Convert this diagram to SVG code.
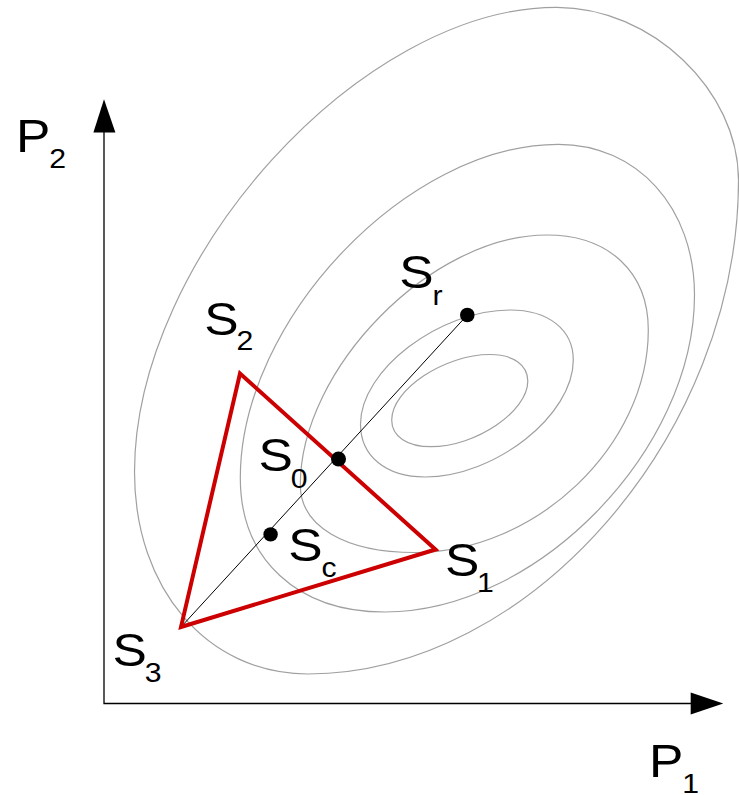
<svg xmlns="http://www.w3.org/2000/svg" width="739" height="795" viewBox="0 0 739 795">
<style>
.contour{fill:none;stroke:#a0a0a0;stroke-width:1.2}
.axis{fill:none;stroke:#000;stroke-width:1.3}
.tri{fill:none;stroke:#cc0000;stroke-width:4;stroke-linejoin:miter}
.ray{fill:none;stroke:#000;stroke-width:1}
.dot{fill:#000}
.lbl{font-family:"Liberation Sans",Arial,sans-serif;font-size:46px;fill:#000}
.sub{font-size:27px}
</style>
<rect width="739" height="795" fill="#fff"/>
<g id="contours">
<path class="contour" d="M490,354.5 C513.1,354.5 527.8,364.8 527.8,381 C527.8,411.5 475.9,446.7 431,446.7 C407,446.7 391.7,436.3 391.7,420 C391.7,389.6 444.4,354.5 490,354.5 Z"/>
<path class="contour" d="M510,310 C548.4,310 573.3,329.6 573.3,360 C573.3,415.2 495,477 425,477 C385.8,477 360.5,456.2 360.5,424 C360.5,370.2 439.4,310 510,310 Z"/>
<path class="contour" d="M546.7,235 C608.7,235 648.3,272 648.3,330 C648.3,445.7 536.3,552.5 415,552.5 C345,552.5 300.3,526.2 300.3,485 C300.3,368.3 431.7,235 546.7,235 Z"/>
<path class="contour" d="M558.3,144.3 C637.3,144.3 694.5,207.6 694.5,295 C694.5,450.3 536.7,612 385,612 C297.3,612 240.3,559.2 240.3,478 C240.3,319.8 407.6,144.3 558.3,144.3 Z"/>
<path class="contour" d="M556.7,7.3 C651.2,7.3 738.5,90.2 738.5,180 C738.5,434.4 529.7,674 308,674 C207.4,674 134.5,589.2 134.5,472 C134.5,257.5 361.9,7.3 556.7,7.3 Z"/>
</g>
<g id="axes">
<polyline class="axis" points="104,132 104,703.5 691,703.5"/>
<polygon points="104,99.3 93.4,132.5 115.4,132.5" fill="#000"/>
<polygon points="723.3,703.5 690.7,692.5 690.7,714.5" fill="#000"/>
</g>
<g id="connectors">
<line class="ray" x1="181" y1="627" x2="467.3" y2="315"/>
</g>
<g id="simplex">
<polygon class="tri" points="435.5,549.5 240,373.5 181,627"/>
</g>
<g id="points">
<circle class="dot" cx="467.3" cy="315" r="7.3"/>
<circle class="dot" cx="338.5" cy="459" r="7.5"/>
<circle class="dot" cx="270.6" cy="534.4" r="7.2"/>
</g>
<g id="labels">
<text class="lbl" transform="translate(16,151.5) scale(1.12,1)">P<tspan class="sub" dx="-1" dy="16">2</tspan></text>
<text class="lbl" transform="translate(649,776.5) scale(1.12,1)">P<tspan class="sub" dx="-1" dy="16">1</tspan></text>
<text class="lbl" transform="translate(204.3,334.5) scale(1.12,1)">S<tspan class="sub" dx="-2" dy="15.5">2</tspan></text>
<text class="lbl" transform="translate(399.3,288) scale(1.12,1)">S<tspan class="sub" dx="-1" dy="17">r</tspan></text>
<text class="lbl" transform="translate(258.6,471) scale(1.12,1)">S<tspan class="sub" dx="-2" dy="17">0</tspan></text>
<text class="lbl" transform="translate(288.3,561.2) scale(1.12,1)">S<tspan class="sub" dx="-1" dy="15.5">c</tspan></text>
<text class="lbl" transform="translate(112.6,666.2) scale(1.12,1)">S<tspan class="sub" dx="-2" dy="15.5">3</tspan></text>
<text class="lbl" transform="translate(444.9,576.2) scale(1.12,1)">S<tspan class="sub" dx="-2" dy="15.5">1</tspan></text>
</g>
</svg>
